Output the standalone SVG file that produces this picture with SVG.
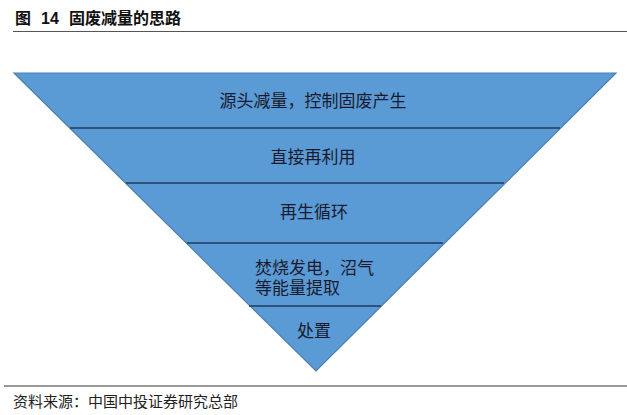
<svg xmlns="http://www.w3.org/2000/svg" width="627" height="415" viewBox="0 0 627 415">
<style>
.t{font-family:"Liberation Sans","Noto Sans CJK SC",sans-serif;}
.ttl{font-size:16px;font-weight:bold;fill:#111;}
.lbl{font-size:17px;fill:#1a1a2e;text-anchor:middle;}
.div{stroke:#1f3a60;stroke-width:1.3;}
</style>
<rect width="627" height="415" fill="#ffffff"/>
<g id="title">
<text class="t ttl" x="15" y="24">图</text>
<text class="t ttl" x="41" y="24">14</text>
<text class="t ttl" x="69" y="24">固废减量的思路</text>
</g>
<line x1="13" y1="31.5" x2="627" y2="31.5" stroke="#555" stroke-width="1.2"/>
<g id="pyramid">
<polygon points="14,73 616,73 316,371" fill="#5b9bd5" stroke="#4a7fb0" stroke-width="1.2"/>
</g>
<g id="dividers">
<line class="div" x1="70" y1="128" x2="560" y2="128"/>
<line class="div" x1="126" y1="183" x2="504" y2="183"/>
<line class="div" x1="187" y1="243" x2="443" y2="243"/>
<line class="div" x1="249" y1="306" x2="381" y2="306"/>
</g>
<g id="level1"><text class="t lbl" x="313" y="107">源头减量，控制固废产生</text></g>
<g id="level2"><text class="t lbl" x="313" y="163">直接再利用</text></g>
<g id="level3"><text class="t lbl" x="314" y="218">再生循环</text></g>
<g id="level4"><text class="t" x="255" y="274" font-size="17" fill="#1a1a2e">焚烧发电，沼气</text><text class="t" x="255" y="294" font-size="17" fill="#1a1a2e">等能量提取</text></g>
<g id="level5"><text class="t lbl" x="314" y="337">处置</text></g>
<line x1="4" y1="386" x2="627" y2="386" stroke="#333" stroke-width="1.2"/>
<text class="t" x="13" y="407" font-size="15" fill="#222">资料来源：中国中投证券研究总部</text>
</svg>
